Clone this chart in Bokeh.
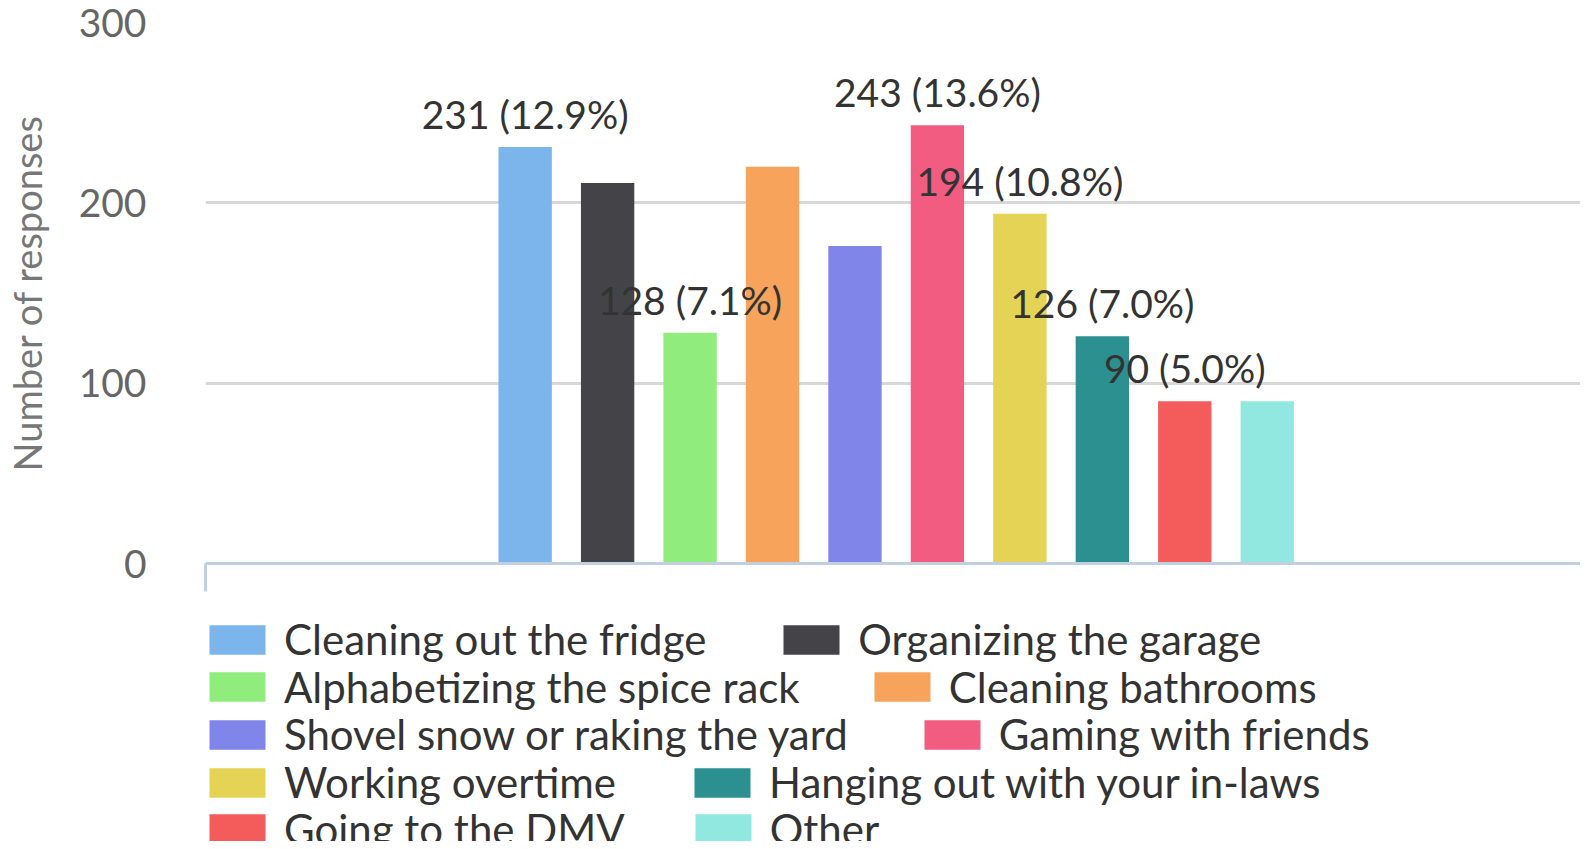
from bokeh.plotting import figure
from bokeh.models import (ColumnDataSource, Range1d, FixedTicker, Legend,
                          LegendItem, LabelSet)
from bokeh.layouts import column
from bokeh.embed import file_html
from bokeh.resources import INLINE
from bokeh.core.properties import value

# ---------------- data ----------------
categories = [
    "Cleaning out the fridge",
    "Organizing the garage",
    "Alphabetizing the spice rack",
    "Cleaning bathrooms",
    "Shovel snow or raking the yard",
    "Gaming with friends",
    "Working overtime",
    "Hanging out with your in-laws",
    "Going to the DMV",
    "Other",
]
counts = [231, 211, 128, 220, 176, 243, 194, 126, 90, 90]
# percentages shown as data labels (None = label hidden in the original)
shown_pct = [12.9, None, 7.1, None, None, 13.6, 10.8, 7.0, 5.0, None]
colors = ["#7cb5ec", "#434348", "#90ed7d", "#f7a35c", "#8085e9",
          "#f15c80", "#e4d354", "#2b908f", "#f45b5b", "#91e8e1"]
y_ticks = [0, 100, 200, 300]
y_title = "Number of responses"

# ---------------- layout constants ----------------
W = 1580
H_TOTAL = 841
FRAME_LEFT = 195
FRAME_TOP = 22
FRAME_BOTTOM = 563          # canvas y of the frame bottom
BOTTOM_BORDER = 32
H1 = FRAME_BOTTOM + BOTTOM_BORDER
H2 = H_TOTAL - H1
BAR_STEP_PX = 83.05
FIRST_BAR_PX = 517.0        # canvas x of first bar centre
FONT = "Lato"

x_start = -(FIRST_BAR_PX - FRAME_LEFT) / BAR_STEP_PX
x_end = x_start + (W - FRAME_LEFT) / BAR_STEP_PX

xs = list(range(len(categories)))
src = ColumnDataSource(dict(x=xs, count=counts, color=colors, cat=categories))

# ================= chart =================
p = figure(width=W, height=H1, output_backend="svg", toolbar_location=None,
           x_range=Range1d(x_start, x_end), y_range=Range1d(0, 300),
           min_border_left=FRAME_LEFT, min_border_right=0,
           min_border_top=FRAME_TOP, min_border_bottom=BOTTOM_BORDER)
p.outline_line_color = None
p.background_fill_color = "white"
p.border_fill_color = "white"

bars = p.vbar(x="x", top="count", width=0.647, fill_color="color",
              line_color=None, source=src)

p.xgrid.visible = False
p.ygrid.ticker = FixedTicker(ticks=y_ticks)
p.ygrid.grid_line_color = "#d8d8d8"
p.ygrid.grid_line_width = 3

ya = p.yaxis[0]
ya.ticker = FixedTicker(ticks=y_ticks)
ya.axis_line_color = None
ya.major_tick_line_color = None
ya.minor_tick_line_color = None
ya.major_label_standoff = 53
ya.major_label_text_font = FONT
ya.major_label_text_font_size = "39px"
ya.major_label_text_color = "#666666"
ya.axis_label = y_title
ya.axis_label_text_font = FONT
ya.axis_label_text_font_size = "38px"
ya.axis_label_text_font_style = "normal"
ya.axis_label_text_color = "#777777"
ya.axis_label_standoff = 26

xa = p.xaxis[0]
xa.ticker = FixedTicker(ticks=[x_start + 0.005])
xa.axis_line_color = "#c0d0e0"
xa.axis_line_width = 3
xa.major_tick_line_color = "#c0d0e0"
xa.major_tick_line_width = 3
xa.major_tick_out = 28
xa.major_tick_in = 0
xa.minor_tick_line_color = None
xa.major_label_text_font_size = "0px"
xa.major_label_text_alpha = 0
xa.major_label_standoff = 0

lab_x, lab_y, lab_t = [], [], []
for i, (c, pc) in enumerate(zip(counts, shown_pct)):
    if pc is not None:
        lab_x.append(i)
        lab_y.append(c)
        lab_t.append(f"{c} ({pc:.1f}%)")
labels = LabelSet(x="x", y="y", text="text",
                  source=ColumnDataSource(dict(x=lab_x, y=lab_y, text=lab_t)),
                  text_align="center", text_baseline="alphabetic", y_offset=18,
                  text_font=value(FONT), text_font_size="39px",
                  text_color="#333333")
p.add_layout(labels)

# ================= legend strip =================
q = figure(width=W, height=H2, output_backend="svg", toolbar_location=None,
           x_range=Range1d(x_start, x_end), y_range=Range1d(1000, 1001),
           x_axis_location=None, y_axis_location=None,
           min_border_left=0, min_border_right=0,
           min_border_top=0, min_border_bottom=0)
q.outline_line_color = None
q.xgrid.visible = False
q.ygrid.visible = False
q.background_fill_color = "white"
q.border_fill_color = "white"
# same bars, out of view: only used for the legend swatches
leg_bars = q.vbar(x="x", top="count", width=0.647, fill_color="color",
                  line_color=None, source=src)

ITEM_H = 37
LEG_HALF = 25                                    # half the measured legend height
row_centres = [639, 686.7, 734.3, 782, 828.5]   # page y of each legend row
row_spacing = [70, 67, 69, 71, 63]              # gap between the two items of a row
for r, yc in enumerate(row_centres):
    items = [LegendItem(label=categories[i], renderers=[leg_bars], index=i)
             for i in (2 * r, 2 * r + 1)]
    vy = H2 - (yc - H1) - LEG_HALF
    leg = Legend(items=items, orientation="horizontal",
                 location=(-3, vy),
                 glyph_width=70, glyph_height=ITEM_H, label_height=ITEM_H,
                 label_standoff=12, spacing=row_spacing[r], padding=0, margin=0,
                 border_line_color=None, background_fill_alpha=0,
                 label_text_font=FONT, label_text_font_size="42px",
                 label_text_color="#333333")
    q.add_layout(leg)

open("out.html", "w").write(file_html(column(p, q), INLINE, title="Chores survey"))
